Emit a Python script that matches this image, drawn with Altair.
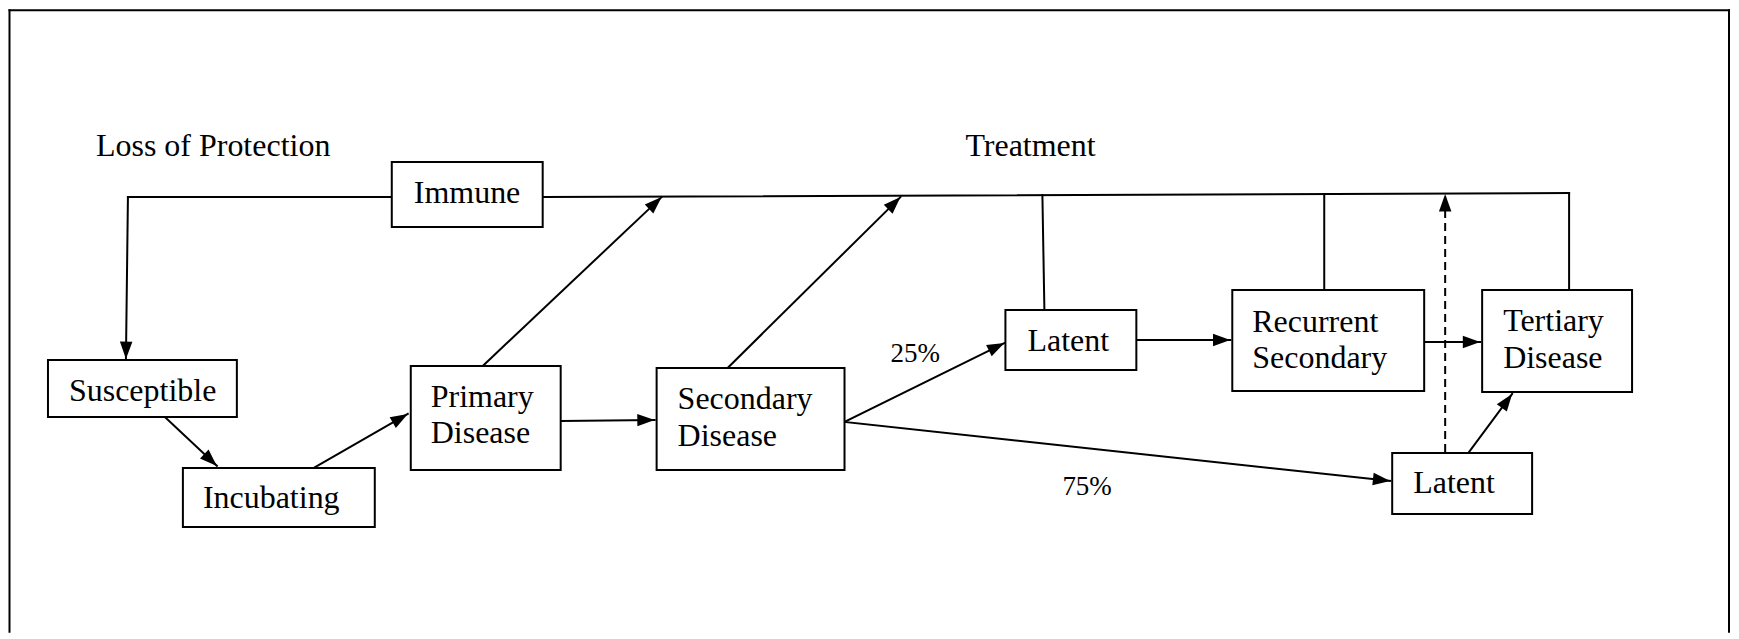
import math
import altair as alt
import pandas as pd

# ---- data (page-pixel coordinates) ----
seg_x1 = [392, 128, 543, 1570, 1043, 1325, 1446, 483, 728, 166, 314, 561, 845, 845, 1137, 1425, 1470, 9.5, 9.5, 1730]
seg_y1 = [196, 196, 196, 192, 194, 193, 451, 365, 367, 417, 467, 420, 421, 421, 339, 341, 451, 631, 9, 9]
seg_x2 = [128, 126, 1570, 1570, 1045, 1325, 1446, 662, 901, 217, 408, 655, 1005, 1391, 1231, 1481, 1513, 9.5, 1730, 1730]
seg_y2 = [196, 358, 192, 289, 309, 289, 193, 196, 196, 465, 413, 419, 342, 480, 339, 341, 393, 9, 9, 631]
seg_arrow = [0, 1, 0, 0, 0, 0, 1, 1, 1, 1, 1, 1, 1, 1, 1, 1, 1, 0, 0, 0]
seg_dash = [0, 0, 0, 0, 0, 0, 1, 0, 0, 0, 0, 0, 0, 0, 0, 0, 0, 0, 0, 0]

box_names = ["Immune", "Susceptible", "Incubating", "Primary", "Secondary",
             "Latent1", "Recurrent", "Tertiary", "Latent2"]
box_x1 = [392, 48, 183, 411, 657, 1006, 1233, 1483, 1393]
box_x2 = [543, 237, 375, 561, 845, 1137, 1425, 1633, 1533]
box_y1 = [161, 359, 467, 365, 367, 309, 289, 289, 452]
box_y2 = [226, 416, 526, 469, 469, 369, 390, 391, 513]

label_text = ["Loss of Protection", "Treatment", "Immune", "Susceptible", "Incubating",
              "Primary", "Disease", "Secondary", "Disease", "Latent",
              "Recurrent", "Secondary", "Tertiary", "Disease", "Latent", "25%", "75%"]
label_x = [96, 966, 414, 69, 203, 431, 431, 678, 678, 1028, 1253, 1253, 1504, 1504, 1414, 891, 1063]
label_y = [155, 155, 202, 400, 507, 406, 442, 408, 445, 350, 331, 367, 330, 367, 492, 361, 494]
label_size = [32, 32, 32, 32, 32, 32, 32, 32, 32, 32, 32, 32, 32, 32, 32, 27, 27]

# ---- tables ----
segs = pd.DataFrame({"x1": seg_x1, "y1": seg_y1, "x2": seg_x2, "y2": seg_y2,
                     "arrow": seg_arrow, "dash": seg_dash})
heads = segs[segs["arrow"] == 1].copy()
heads["angle"] = [
    (math.degrees(math.atan2(x2 - x1, -(y2 - y1))) + 360) % 360
    for x1, y1, x2, y2 in zip(heads.x1, heads.y1, heads.x2, heads.y2)
]
boxes = pd.DataFrame({"name": box_names, "x1": box_x1, "x2": box_x2, "y1": box_y1, "y2": box_y2})
labels = pd.DataFrame({"t": label_text, "x": label_x, "y": label_y, "s": label_size})

W, H = 1723, 623
xs = alt.Scale(domain=[8, 8 + W], nice=False, zero=False)
ys = alt.Scale(domain=[8, 8 + H], nice=False, zero=False, reverse=True)

solid = alt.Chart(segs[segs["dash"] == 0]).mark_rule(
    color="black", strokeWidth=2, strokeCap="square"
).encode(
    x=alt.X("x1:Q", scale=xs, axis=None), y=alt.Y("y1:Q", scale=ys, axis=None),
    x2="x2:Q", y2="y2:Q",
)
dashed = alt.Chart(segs[segs["dash"] == 1]).mark_rule(
    color="black", strokeWidth=2, strokeDash=[8, 5]
).encode(
    x=alt.X("x1:Q", scale=xs, axis=None), y=alt.Y("y1:Q", scale=ys, axis=None),
    x2="x2:Q", y2="y2:Q",
)
rects = alt.Chart(boxes).mark_rect(
    fill="white", stroke="black", strokeWidth=2
).encode(
    x=alt.X("x1:Q", scale=xs, axis=None), x2="x2:Q",
    y=alt.Y("y1:Q", scale=ys, axis=None), y2="y2:Q",
)
texts = alt.Chart(labels).mark_text(
    align="left", baseline="alphabetic", font="Liberation Serif", color="black"
).encode(
    x=alt.X("x:Q", scale=xs, axis=None), y=alt.Y("y:Q", scale=ys, axis=None),
    text="t:N", size=alt.Size("s:Q", scale=None, legend=None),
)
arrowheads = alt.Chart(heads).mark_point(
    shape="M0,0L-0.36,1L0.36,1Z", filled=True, color="black", opacity=1,
    size=1200, strokeWidth=0
).encode(
    x=alt.X("x2:Q", scale=xs, axis=None), y=alt.Y("y2:Q", scale=ys, axis=None),
    angle=alt.Angle("angle:Q", scale=None),
)

chart = alt.layer(solid, dashed, rects, texts, arrowheads).properties(
    width=W, height=H, padding=0, background="white"
).configure_view(stroke=None)

chart.save("out.html", embed_options={"renderer": "svg", "actions": False})
